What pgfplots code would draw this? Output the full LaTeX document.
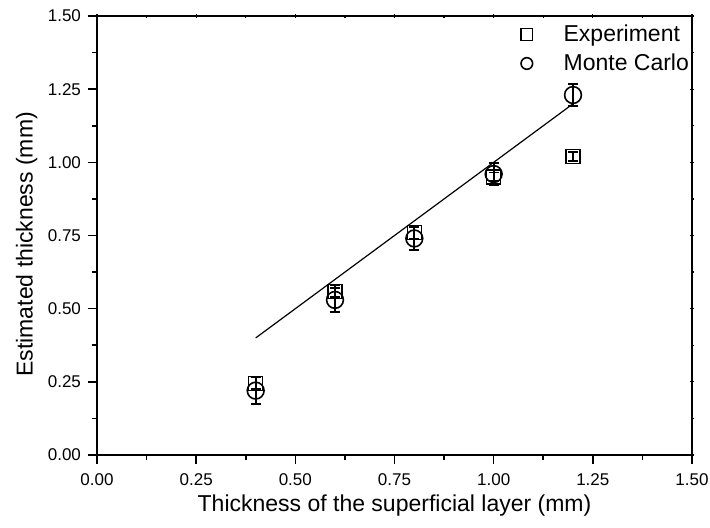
\documentclass[border=0pt]{standalone}
\usepackage{fontspec}
\setmainfont{Liberation Sans}
\usepackage{pgfplots}
\pgfplotsset{compat=1.18}
\begin{document}
\begin{tikzpicture}
\pgfplotsset{
  myframe/.style={
    scale only axis, width=297.5pt, height=219.5pt,
    xmin=0, xmax=1.5, ymin=0, ymax=1.5,
    axis line style={line width=0.8pt},
  }
}
\begin{axis}[
  myframe,
  name=ax,
  xtick={0,0.25,...,1.5}, ytick={0,0.25,...,1.5},
  minor tick num=1,
  xtick pos=left, ytick pos=left,
  tick align=outside,
  major tick length=4.5pt, minor tick length=2.5pt,
  tick style={line width=0.8pt, black},
  /pgf/number format/.cd, fixed, fixed zerofill, precision=2, assume math mode=true,
  /pgfplots/.cd,
  tick label style={font=\fontsize{8.5pt}{10pt}\selectfont},
  xticklabel style={yshift=-1.5pt},
  xlabel={Thickness of the superficial layer (mm)},
  ylabel={Estimated thickness (mm)},
  label style={font=\fontsize{11.5pt}{13pt}\selectfont},
  xlabel style={at={(axis description cs:0.5,-0.116)}, anchor=center},
  ylabel style={at={(axis description cs:-0.118,0.48)}, anchor=center},
  legend style={draw=none, fill=none, at={(rel axis cs:0.712,0.99)}, anchor=north west,
    font=\fontsize{11.5pt}{13pt}\selectfont, row sep=0.6pt, inner sep=0pt,
    /tikz/every odd column/.append style={column sep=13.5pt}},
  legend image post style={mark size=2.9pt, line width=0.5pt},
  legend cell align=left,
  clip=false,
]
\coordinate (sw) at (rel axis cs:0,0);
\coordinate (ne) at (rel axis cs:1,1);
\addplot[black, line width=0.6pt, forget plot] coordinates {(0.4,0.4) (1.2,1.2)};
\addplot[only marks, mark=square, mark size=3.5pt, mark options={line width=0.6pt, black, fill=none},
  error bars/.cd, y dir=both, y explicit,
  error bar style={line width=0.9pt, black}, error mark options={rotate=90, mark size=2.5pt, line width=0.9pt}]
  coordinates {
  (0.4,0.245) +- (0,0.02)
  (0.6,0.56) +- (0,0.02)
  (0.8,0.76) +- (0,0.02)
  (1.0,0.95) +- (0,0.015)
  (1.2,1.02) +- (0,0.016)
};
\addlegendentry{Experiment}
\addplot[only marks, mark=o, mark size=4.2pt, mark options={line width=0.8pt, black, fill=none},
  error bars/.cd, y dir=both, y explicit,
  error bar style={line width=0.9pt, black}, error mark options={rotate=90, mark size=2.5pt, line width=0.9pt}]
  coordinates {
  (0.4,0.22) +- (0,0.045)
  (0.6,0.53) +- (0,0.04)
  (0.8,0.74) +- (0,0.04)
  (1.0,0.96) +- (0,0.038)
  (1.2,1.23) +- (0,0.038)
};
\addlegendentry{Monte Carlo}
\end{axis}
\begin{axis}[
  myframe,
  axis line style={draw=none},
  xtick={0,0.25,...,1.5}, ytick={0,0.25,...,1.5},
  minor tick num=1,
  xtick pos=right, ytick pos=right,
  tick align=center,
  major tick length=2pt, minor tick length=1.5pt,
  tick style={line width=0.6pt, black},
  xticklabels={}, yticklabels={},
]
\end{axis}
\pgfresetboundingbox
\path[use as bounding box] ([xshift=-48.5pt,yshift=-36pt]sw) rectangle ([xshift=9pt,yshift=8pt]ne);
\end{tikzpicture}
\end{document}
